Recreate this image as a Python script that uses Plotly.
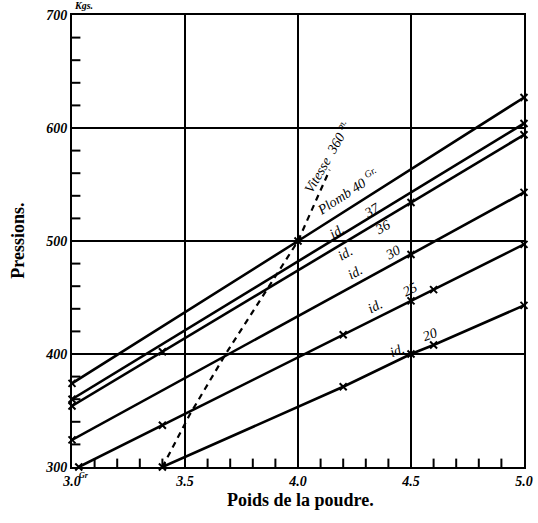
import plotly.graph_objects as go

# ---- data ----
x_plomb40 = [3.0, 4.0, 5.0]
y_plomb40 = [374, 500, 627]

x_id37 = [3.0, 5.0]
y_id37 = [360, 604]

x_id36 = [3.0, 3.4, 4.5, 5.0]
y_id36 = [354, 402, 534, 594]

x_id30 = [3.0, 4.5, 5.0]
y_id30 = [324, 488, 543]

x_id25 = [3.03, 3.4, 4.2, 4.5, 4.6, 5.0]
y_id25 = [300, 337, 417, 447, 457, 497]

x_id20 = [3.4, 4.2, 4.5, 4.6, 5.0]
y_id20 = [300, 371, 400, 408, 443]

x_vitesse = [3.4, 3.52, 3.68, 4.0, 4.14]
y_vitesse = [300, 346, 400, 500, 563]

x_range = [3.0, 5.0]
y_range = [300, 700]

# minor tick positions along the axes (every 0.1 and every 20)
x_minor = [round(x_range[0] + 0.1 * i, 1) for i in range(1, 20)]
y_minor = [y_range[0] + 20 * i for i in range(1, 20)]

series = [
    (x_plomb40, y_plomb40),
    (x_id37, y_id37),
    (x_id36, y_id36),
    (x_id30, y_id30),
    (x_id25, y_id25),
    (x_id20, y_id20),
]

fig = go.Figure()

# minor ticks drawn as clipped line markers on the axes (only inner half shows)
fig.add_trace(go.Scatter(
    x=x_minor, y=[y_range[0]] * len(x_minor), mode="markers",
    marker=dict(symbol="line-ns", size=12, line=dict(color="black", width=2)),
    showlegend=False, hoverinfo="skip",
))
fig.add_trace(go.Scatter(
    x=[x_range[0]] * len(y_minor), y=y_minor, mode="markers",
    marker=dict(symbol="line-ew", size=12, line=dict(color="black", width=2)),
    showlegend=False, hoverinfo="skip",
))

for xs, ys in series:
    fig.add_trace(go.Scatter(
        x=xs, y=ys, mode="lines+markers",
        line=dict(color="black", width=2.6),
        marker=dict(symbol="x-thin", size=7, line=dict(color="black", width=2)),
        showlegend=False, cliponaxis=False,
    ))

fig.add_trace(go.Scatter(
    x=x_vitesse, y=y_vitesse, mode="lines",
    line=dict(color="black", width=2.2, dash="6px,5px"),
    showlegend=False,
))

hand = dict(family="Liberation Serif", size=14, color="black", style="italic", weight="bold")
lab = dict(family="Liberation Serif", size=14, color="black", style="italic")

annotations = []
line_labels = [
    ("Vitesse  360 <sup>m.</sup>", 4.13, 575, -60),
    ("Plomb 40 <sup>Gr.</sup>", 4.22, 544, -33),
    ("id.", 4.173, 508, -31),
    ("37", 4.327, 527, -31),
    ("id.", 4.208, 489, -30),
    ("36", 4.372, 512, -30),
    ("id.", 4.252, 472, -29),
    ("30", 4.42, 490, -29),
    ("id.", 4.34, 442, -27),
    ("25", 4.496, 457, -27),
    ("id.", 4.438, 403, -20),
    ("20", 4.584, 417, -20),
]
for t, xx, yy, ang in line_labels:
    annotations.append(dict(text=t, x=xx, y=yy, xref="x", yref="y", showarrow=False,
                            textangle=ang, font=lab, xanchor="center", yanchor="middle"))

annotations += [
    dict(text="Kgs.", x=0.0, y=1.02, xref="paper", yref="paper", xanchor="left",
         yanchor="middle", showarrow=False, font=dict(family="Liberation Serif", size=10,
                                                      style="italic", weight="bold", color="black")),
    dict(text="Gr", x=0.027, y=-0.018, xref="paper", yref="paper", xanchor="center",
         yanchor="middle", showarrow=False, font=dict(family="Liberation Serif", size=8,
                                                      style="italic", weight="bold", color="black")),
    dict(text="Pressions.", x=-0.12, y=0.5, xref="paper", yref="paper", textangle=-90,
         xanchor="center", yanchor="middle",
         showarrow=False, font=dict(family="Liberation Serif", size=18, weight="bold", color="black")),
    dict(text="Poids de la poudre.", x=0.505, y=-0.074, xref="paper", yref="paper",
         xanchor="center", yanchor="middle",
         showarrow=False, font=dict(family="Liberation Serif", size=18, weight="bold", color="black")),
]

main_axis = dict(
    showgrid=True, gridcolor="black", gridwidth=1.5,
    showline=True, linecolor="black", linewidth=2, mirror=True,
    zeroline=False, ticks="", tickfont=hand,
)

fig.update_layout(
    template="none",
    showlegend=False,
    width=538, height=523,
    margin=dict(l=72, r=14, t=15, b=56),
    paper_bgcolor="white", plot_bgcolor="white",
    xaxis=dict(range=x_range, dtick=0.5, tickformat=".1f", **main_axis),
    yaxis=dict(range=y_range, dtick=100, **main_axis),
    annotations=annotations,
)

fig.write_html("out.html", config={"displayModeBar": False},
               post_script="document.body.style.margin='0';document.body.style.overflow='hidden';")
